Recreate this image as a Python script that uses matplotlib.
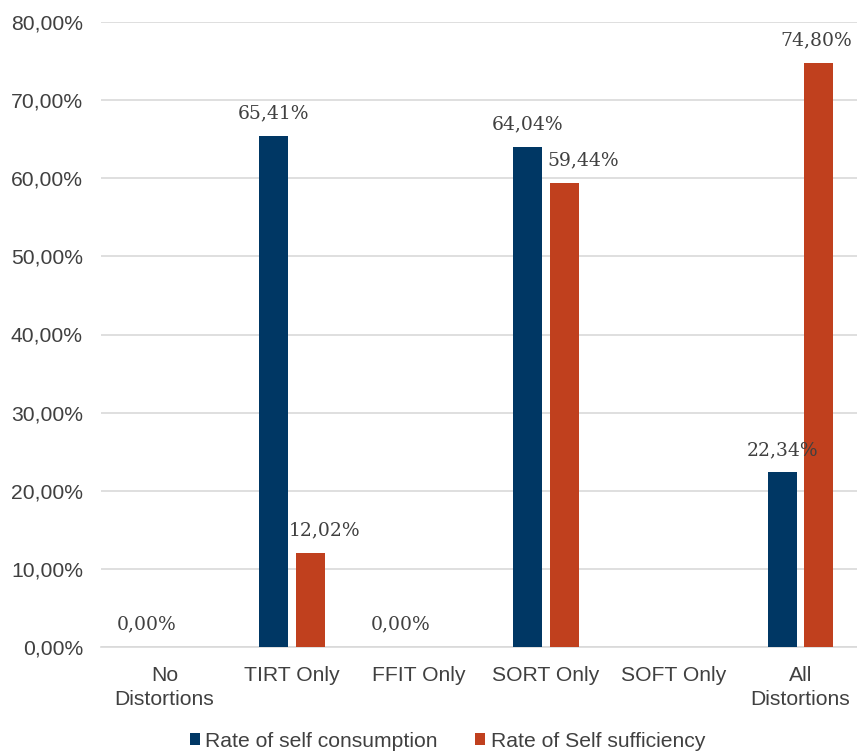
import numpy as np
import matplotlib.pyplot as plt

categories = ['No\nDistortions', 'TIRT Only', 'FFIT Only', 'SORT Only', 'SOFT Only', 'All\nDistortions']
self_consumption = [0.00, 65.41, 0.00, 64.04, 0.00, 22.34]
self_sufficiency = [0.00, 12.02, 0.00, 59.44, 0.00, 74.80]
# which labels Excel actually showed
show_cons = [True, True, True, True, False, True]
show_suff = [False, True, False, True, False, True]
suff_label_shift = [0, 15, 0, 19, 0, -2]  # px, Excel nudges overlapping labels

blue = '#003764'
orange = '#C0401E'
txt = '#404040'

fig = plt.figure(figsize=(8.57, 7.52), dpi=100)
ax = fig.add_axes([101 / 857, 105 / 752, 763 / 857, 625 / 752])

x = np.arange(len(categories))
w = 0.228
off = 0.144
ax.bar(x - off, self_consumption, w, color=blue, label='Rate of self consumption', zorder=3)
ax.bar(x + off, self_sufficiency, w, color=orange, label='Rate of Self sufficiency', zorder=3)

def fmt(v):
    return f'{v:.2f}%'.replace('.', ',')

for i, v in enumerate(self_consumption):
    if show_cons[i]:
        ax.annotate(fmt(v), (x[i] - off, v), xytext=(0, 12.5), textcoords='offset points',
                    ha='center', va='baseline', fontsize=13.5, family='DejaVu Serif', color=txt)
for i, v in enumerate(self_sufficiency):
    if show_suff[i]:
        ax.annotate(fmt(v), (x[i] + off, v), xytext=(suff_label_shift[i] * 0.72, 12.5),
                    textcoords='offset points', ha='center', va='baseline',
                    fontsize=13.5, family='DejaVu Serif', color=txt)

ax.set_xlim(-0.5, len(categories) - 0.5)
ax.set_ylim(0, 80)
ax.set_yticks(np.arange(0, 81, 10))
ax.set_yticklabels([f'{t},00%' for t in range(0, 81, 10)])
ax.set_xticks(x)
ax.set_xticklabels(categories, linespacing=1.3)
ax.tick_params(length=0, labelsize=15.2, labelcolor=txt)
ax.tick_params(axis='y', pad=13)
ax.tick_params(axis='x', pad=14)
for lab in ax.get_xticklabels() + ax.get_yticklabels():
    lab.set_family('Liberation Sans')
ax.grid(axis='y', color='#d9d9d9', linewidth=1.2, zorder=0)
for s in ['top', 'right', 'left']:
    ax.spines[s].set_visible(False)
ax.spines['bottom'].set_color('#d9d9d9')
ax.spines['bottom'].set_linewidth(1.2)

fig.legend(loc='center', bbox_to_anchor=(0.522, 0.014), ncol=2, frameon=False,
           prop={'family': 'Liberation Sans', 'size': 15.2}, labelcolor=txt,
           handlelength=0.5, handleheight=0.5, handletextpad=0.25, columnspacing=1.75)

fig.savefig('out.png', dpi=100)
